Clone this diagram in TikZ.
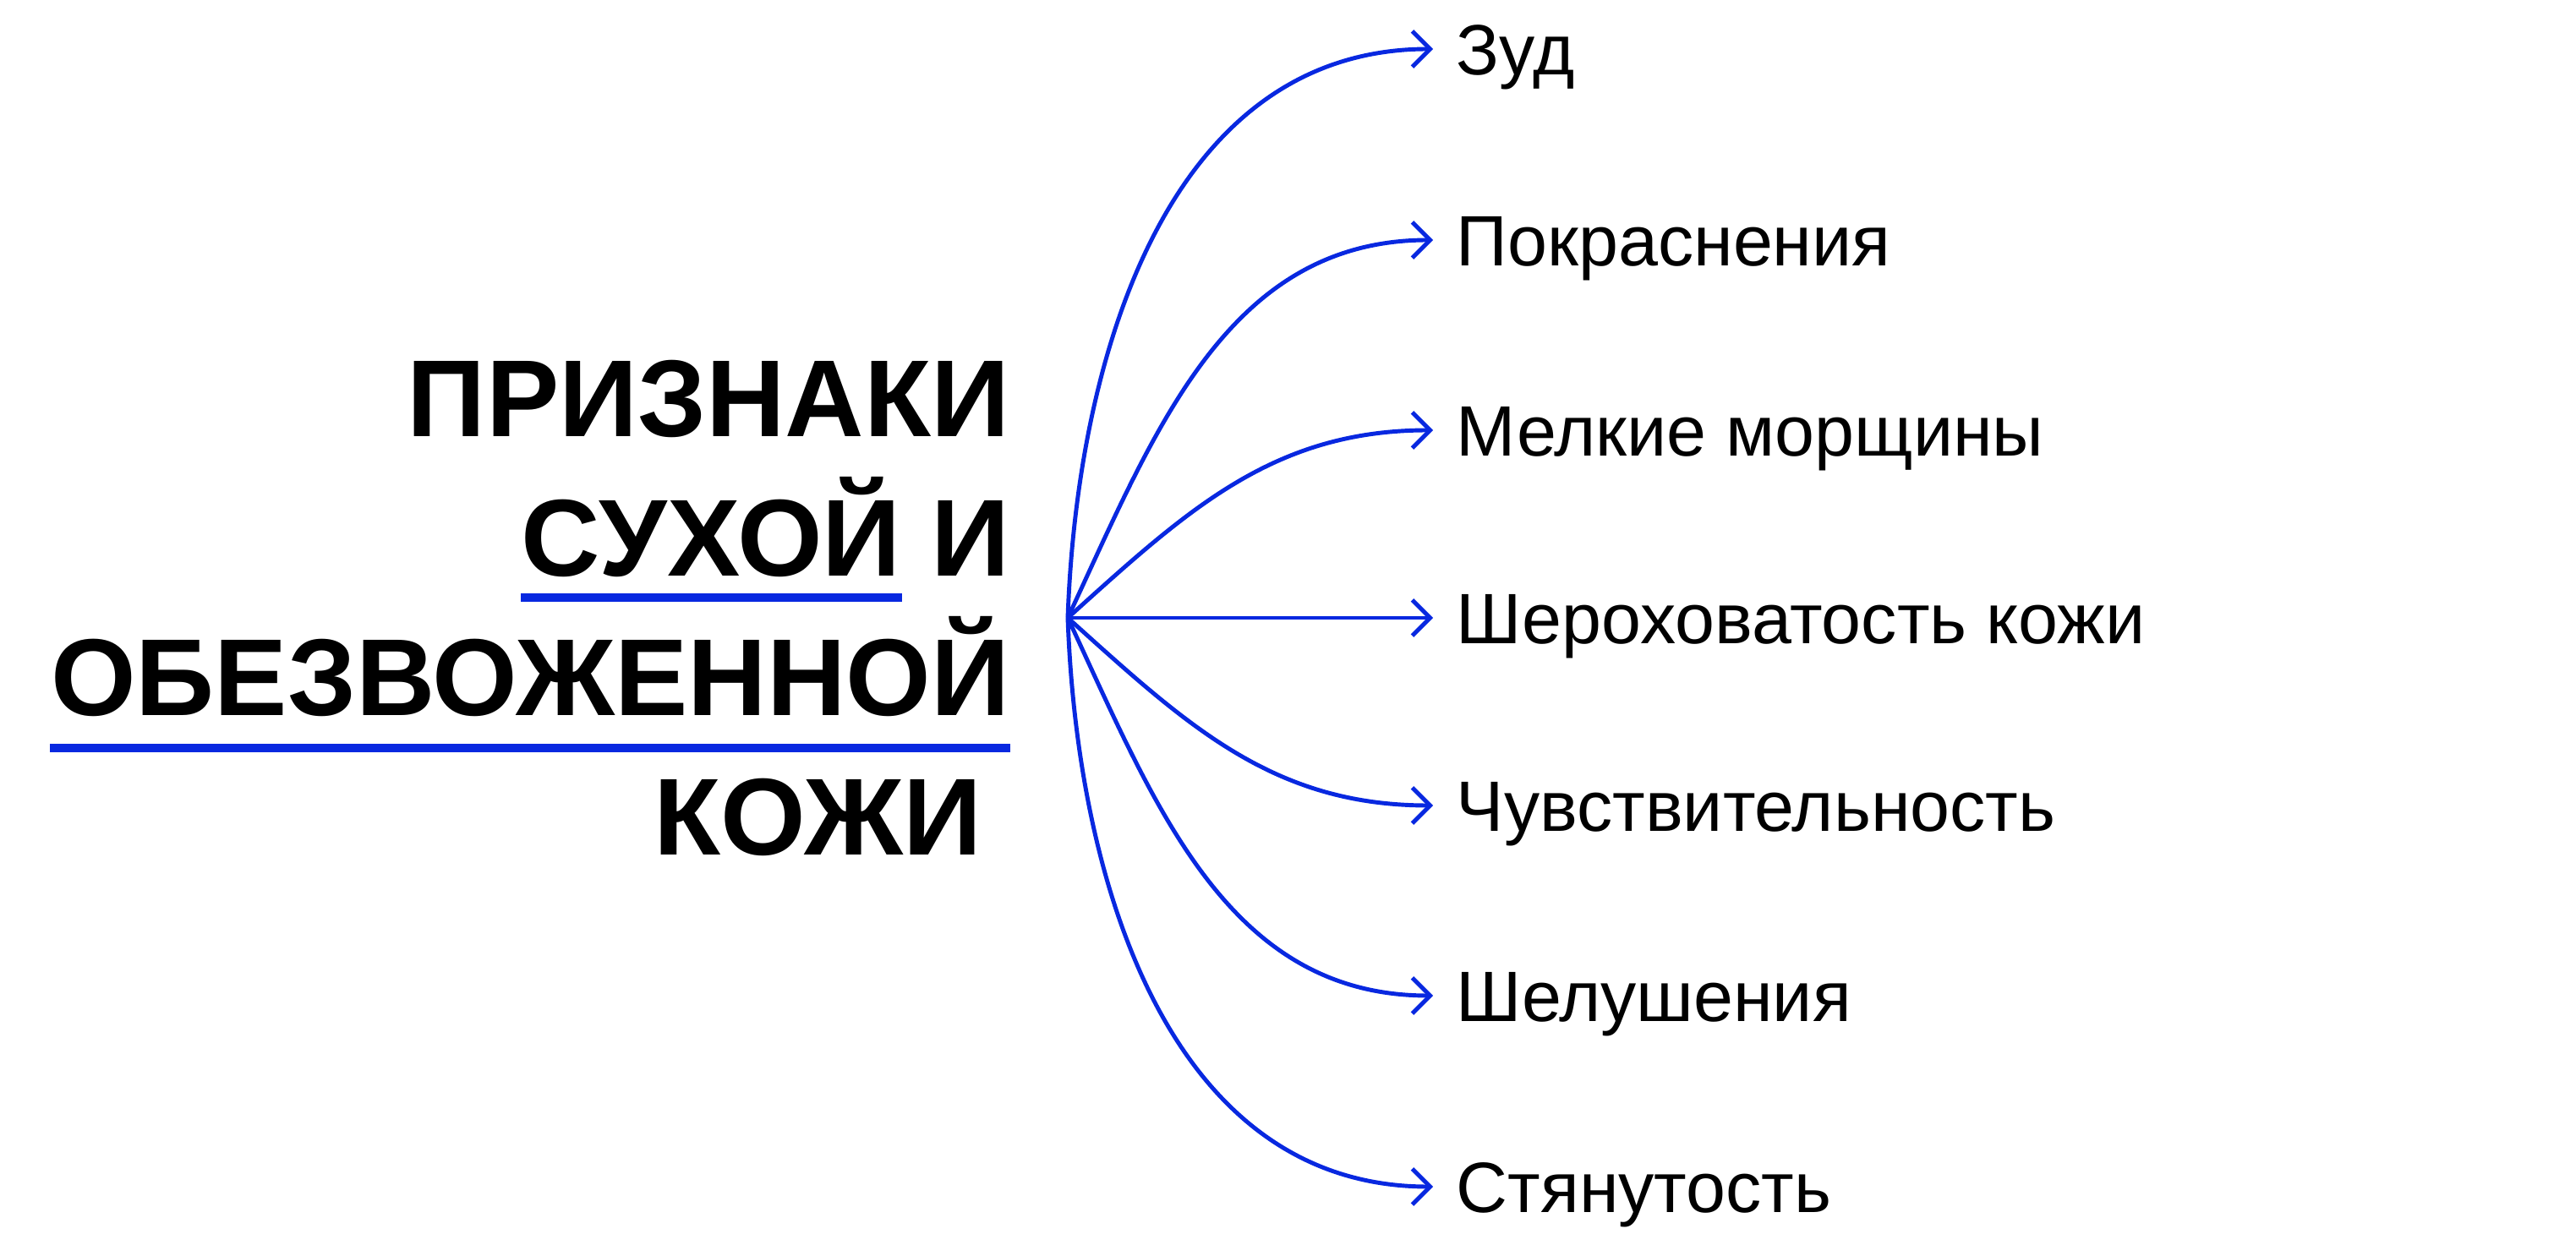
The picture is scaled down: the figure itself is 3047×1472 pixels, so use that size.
\documentclass[tikz,border=0pt]{standalone}
\usepackage{fontspec}
\setmainfont{Liberation Sans}
\usetikzlibrary{arrows.meta,positioning}
\definecolor{signblue}{RGB}{8,40,224}

\begin{document}
\begin{tikzpicture}[
    x=0.01cm, y=0.01cm,
    >={Straight Barb[length=6pt,width=12pt]},
    link/.style={->, signblue, line width=1.4pt},
    underbar/.style={signblue, line width=2.6pt},
    title/.style={inner sep=0pt, font=\fontsize{36.8}{40}\selectfont\bfseries},
    item/.style={anchor=west, inner xsep=7.7pt, inner ysep=0pt,
      text height=17.2pt, text depth=0pt, font=\fontsize{24}{28}\selectfont}
  ]
  \useasboundingbox (0,0) rectangle (3047,1472);

  % заголовок
  \node[title, anchor=base east] (signs) at (1195,955) {ПРИЗНАКИ};
  \node[title, anchor=base east] (and) at (1195,790) {И};
  \node[title, base left=0.34cm of and] (dry) {СУХОЙ};
  \node[title, anchor=base east] (dehydrated) at (1195,625) {ОБЕЗВОЖЕННОЙ};
  \node[title, anchor=base east] (skin) at (1162,460) {КОЖИ};

  % подчёркивания
  \draw[underbar] ([yshift=-0.25cm]dry.base west) -- ([yshift=-0.25cm]dry.base east);
  \draw[underbar] ([yshift=-0.38cm]dehydrated.base west) -- ([yshift=-0.38cm]dehydrated.base east);

  % признаки
  \coordinate (src) at (1263,741);
  \node[item] (itch) at (1695,1414) {Зуд};
  \node[item] (redness) at (1695,1188) {Покраснения};
  \node[item] (wrinkles) at (1695,963) {Мелкие морщины};
  \node[item] (rough) at (1695,741) {Шероховатость кожи};
  \node[item] (sensitive) at (1695,519) {Чувствительность};
  \node[item] (peeling) at (1695,294) {Шелушения};
  \node[item] (tight) at (1695,68) {Стянутость};

  % стрелки
  \draw[link] (src) to[out=88,in=180] (itch);
  \draw[link] (src) to[out=65,in=180] (redness);
  \draw[link] (src) to[out=42,in=180] (wrinkles);
  \draw[link] (src) -- (rough);
  \draw[link] (src) to[out=-42,in=180] (sensitive);
  \draw[link] (src) to[out=-65,in=180] (peeling);
  \draw[link] (src) to[out=-88,in=180] (tight);
\end{tikzpicture}
\end{document}
